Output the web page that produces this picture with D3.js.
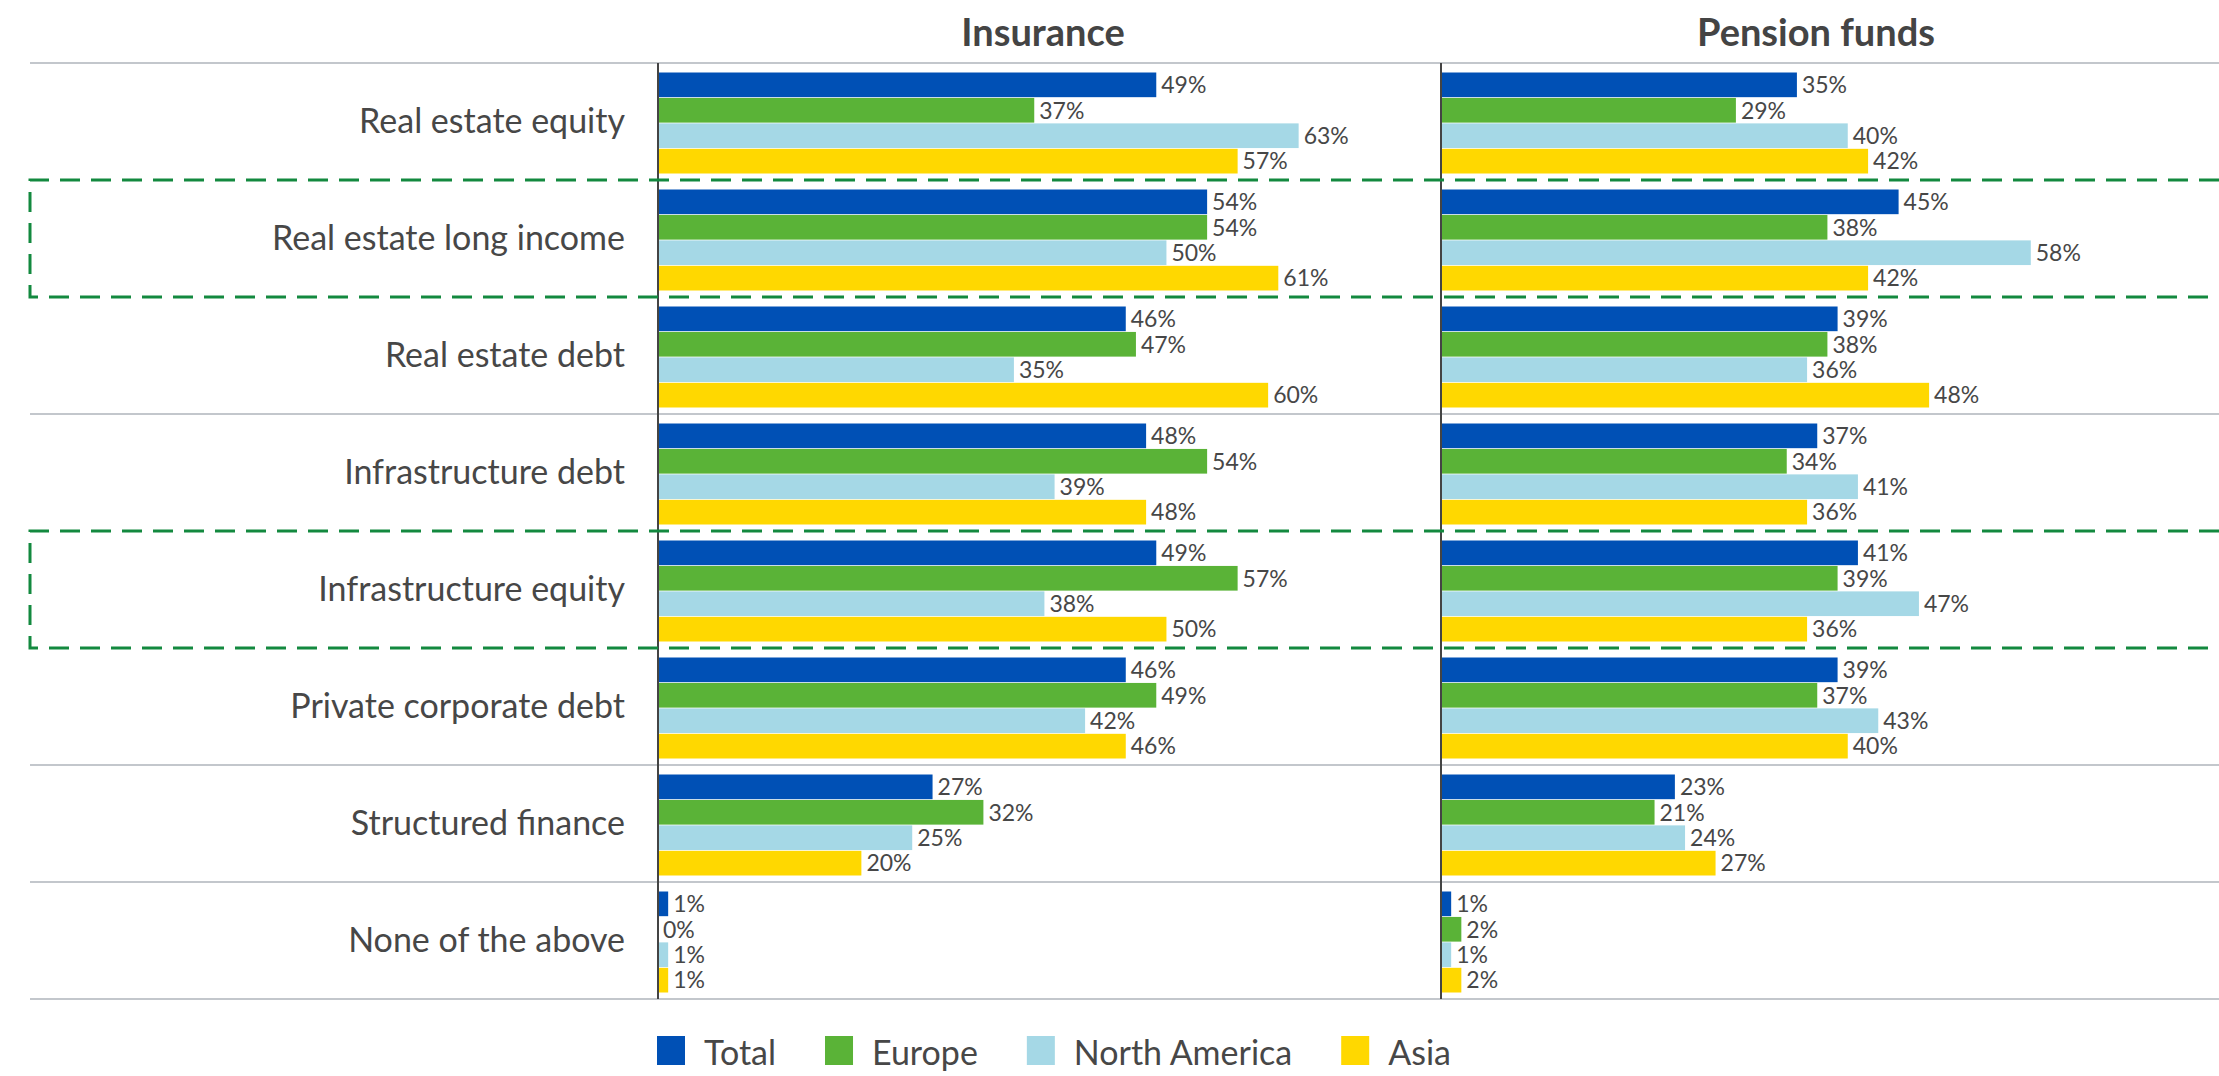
<!DOCTYPE html>
<html>
<head>
<meta charset="utf-8">
<script src="https://cdnjs.cloudflare.com/ajax/libs/d3/7.8.5/d3.min.js"></script>
<style>
  body { margin: 0; background: #fff; }
  svg { font-family: "Source Sans Pro", Lato, "Open Sans", sans-serif; }
</style>
</head>
<body>
<svg id="chart"></svg>
<script>
const W = 2219, H = 1076;

const categories = [
  "Real estate equity",
  "Real estate long income",
  "Real estate debt",
  "Infrastructure debt",
  "Infrastructure equity",
  "Private corporate debt",
  "Structured finance",
  "None of the above"
];
const regions = ["Total", "Europe", "North America", "Asia"];
const colors = ["#0050b5", "#5ab337", "#a5d8e6", "#ffd800"];
const panels = ["Insurance", "Pension funds"];
const highlighted = ["Real estate long income", "Infrastructure equity"];

// insurance
const insTotal  = [49, 54, 46, 48, 49, 46, 27, 1];
const insEurope = [37, 54, 47, 54, 57, 49, 32, 0];
const insNA     = [63, 50, 35, 39, 38, 42, 25, 1];
const insAsia   = [57, 61, 60, 48, 50, 46, 20, 1];
// pension funds
const penTotal  = [35, 45, 39, 37, 41, 39, 23, 1];
const penEurope = [29, 38, 38, 34, 39, 37, 21, 2];
const penNA     = [40, 58, 36, 41, 47, 43, 24, 1];
const penAsia   = [42, 42, 48, 36, 36, 40, 27, 2];

const panelData = [
  [insTotal, insEurope, insNA, insAsia],
  [penTotal, penEurope, penNA, penAsia]
];

const plotTop = 63, plotBottom = 999, plotLeft = 30;
const panelX = [658, 1441];
const panelW = 783;

const svg = d3.select("#chart").attr("width", W).attr("height", H);

var y = d3.scaleBand().domain(categories).range([plotTop, plotBottom]);
var yInner = d3.scaleBand().domain(regions)
  .range([9.5, y.bandwidth() - 6.5]).paddingInner(0.03);
var x = d3.scaleLinear().domain([0, 77]).range([0, panelW]);
var color = d3.scaleOrdinal().domain(regions).range(colors);

// row separators (solid where no dashed box)
const bounds = d3.range(categories.length + 1).map(i => plotTop + i * y.step());
const dashedBounds = [];
highlighted.forEach(c => { dashedBounds.push(y(c), y(c) + y.step()); });

svg.append("g")
  .selectAll("line")
  .data(bounds.filter(b => !dashedBounds.some(d => Math.abs(d - b) < 1)))
  .enter()
  .append("line")
  .attr("x1", plotLeft).attr("x2", W)
  .attr("y1", d => d).attr("y2", d => d)
  .attr("stroke", "#c3c7cc")
  .attr("stroke-width", 2);

// category labels
svg.append("g")
  .selectAll("text")
  .data(categories)
  .enter()
  .append("text")
  .attr("x", 625)
  .attr("y", d => y(d) + y.bandwidth() / 2)
  .attr("dy", "0.35em")
  .attr("text-anchor", "end")
  .attr("font-size", 34)
  .attr("fill", "#474747")
  .text(d => d);

panels.forEach(function (name, p) {
  var g = svg.append("g").attr("transform", "translate(" + panelX[p] + ",0)");

  g.append("text")
    .attr("x", p == 0 ? 385 : 375)
    .attr("y", 46)
    .attr("text-anchor", "middle")
    .attr("font-size", 38)
    .attr("font-weight", "bold")
    .attr("fill", "#444")
    .text(name);

  regions.forEach(function (r, k) {
    var vals = panelData[p][k];
    var rows = categories.map((c, i) => ({ cat: c, v: vals[i] }));

    g.selectAll(".bar" + k)
      .data(rows)
      .enter()
      .append("rect")
      .attr("x", x(0))
      .attr("y", d => y(d.cat) + yInner(r))
      .attr("width", d => x(d.v))
      .attr("height", yInner.bandwidth())
      .attr("fill", color(r));

    g.selectAll(".lbl" + k)
      .data(rows)
      .enter()
      .append("text")
      .attr("x", d => x(d.v) + 5)
      .attr("y", d => y(d.cat) + yInner(r) + yInner.bandwidth() / 2)
      .attr("dy", "0.36em")
      .attr("font-size", 23)
      .attr("fill", "#474747")
      .text(d => d.v + "%");
  });

  g.append("line")
    .attr("x1", 0).attr("x2", 0)
    .attr("y1", plotTop).attr("y2", plotBottom)
    .attr("stroke", "#444")
    .attr("stroke-width", 2);
});

// dashed highlight boxes
highlighted.forEach(function (c) {
  var y0 = y(c), y1 = y(c) + y.step();
  svg.append("path")
    .attr("d", "M" + W + "," + y0 + "H" + plotLeft + "V" + y1 + "H" + W)
    .attr("fill", "none")
    .attr("stroke", "#13893f")
    .attr("stroke-width", 3)
    .attr("stroke-dasharray", "20,11");
});

// legend
var legend = svg.append("g").attr("transform", "translate(657,1036)");
var lx = 0;
regions.forEach(function (r) {
  legend.append("rect")
    .attr("x", lx).attr("y", 0)
    .attr("width", 28).attr("height", 29)
    .attr("fill", color(r));
  var t = legend.append("text")
    .attr("x", lx + 47)
    .attr("y", 29)
    .attr("font-size", 34)
    .attr("fill", "#474747")
    .text(r);
  lx += 47 + t.node().getComputedTextLength() + 49;
});
</script>
</body>
</html>
